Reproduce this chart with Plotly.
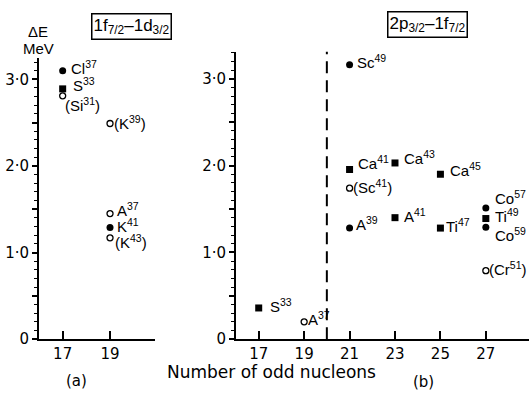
import plotly.graph_objects as go

W, H = 529, 402
LFONT = "Liberation Sans"
DFONT = "DejaVu Sans"

# ---------------- data ----------------
# panel (a): 1f7/2 - 1d3/2
a_x = [17, 17, 17, 19, 19, 19, 19]
a_y = [3.10, 2.89, 2.81, 2.49, 1.45, 1.29, 1.17]
a_kind = ["filled_circle", "filled_square", "open_circle", "open_circle",
          "open_circle", "filled_circle", "open_circle"]
a_labels = ["Cl<sup>37</sup>", "S<sup>33</sup>", "(Si<sup>31</sup>)", "(K<sup>39</sup>)",
            "A<sup>37</sup>", "K<sup>41</sup>", "(K<sup>43</sup>)"]

# panel (b): 2p3/2 - 1f7/2
b_x = [21, 21, 23, 25, 21, 21, 23, 25, 27, 27, 27, 27, 17, 19]
b_y = [3.16, 1.955, 2.03, 1.90, 1.74, 1.28, 1.40, 1.28, 1.51, 1.39, 1.29, 0.79, 0.36, 0.20]
b_kind = ["filled_circle", "filled_square", "filled_square", "filled_square",
          "open_circle", "filled_circle", "filled_square", "filled_square",
          "filled_circle", "filled_square", "filled_circle", "open_circle",
          "filled_square", "open_circle"]
b_labels = ["Sc<sup>49</sup>", "Ca<sup>41</sup>", "Ca<sup>43</sup>", "Ca<sup>45</sup>",
            "(Sc<sup>41</sup>)", "A<sup>39</sup>", "A<sup>41</sup>", "Ti<sup>47</sup>",
            "Co<sup>57</sup>", "Ti<sup>49</sup>", "Co<sup>59</sup>", "(Cr<sup>51</sup>)",
            "S<sup>33</sup>", "A<sup>37</sup>"]

a_xticks = [17, 19]
b_xticks = [17, 19, 21, 23, 25, 27]
y_tickvals = [0, 0.5, 1.0, 1.5, 2.0, 2.5, 3.0]
y_ticktext = ["0", "", "1·0", "", "2·0", "", "3·0"]
shell_boundary = 20

# ---------------- style ----------------
# label offsets in pixels (dx, dy) relative to each marker
a_off = [(7, 3), (9, 4), (1, -9), (3, 1), (6, 4), (6, 2), (4, -4)]
b_off = [(6, 3), (7, 7), (8, 5), (9, 5), (2, 2), (5, 5), (8, 2), (5, 3),
         (8, 11), (8, 3), (8, -7), (2, 2), (10, 2), (3, 3)]

marker_styles = {
    "filled_circle": dict(symbol="circle", size=7, color="black", line=dict(width=0)),
    "filled_square": dict(symbol="square", size=7, color="black", line=dict(width=0)),
    "open_circle": dict(symbol="circle-open", size=6, color="black", line=dict(width=1.3)),
}

fig = go.Figure()

def add_points(xs, ys, kinds, xa, ya):
    for k, st in marker_styles.items():
        px = [x for x, kk in zip(xs, kinds) if kk == k]
        py = [y for y, kk in zip(ys, kinds) if kk == k]
        if px:
            fig.add_trace(go.Scatter(x=px, y=py, mode="markers", marker=st,
                                     xaxis=xa, yaxis=ya, showlegend=False,
                                     hoverinfo="skip", cliponaxis=False))

add_points(a_x, a_y, a_kind, "x", "y")
add_points(b_x, b_y, b_kind, "x2", "y2")

annotations = []
def add_labels(xs, ys, labels, offs, xr, yr):
    for x, y, t, (dx, dy) in zip(xs, ys, labels, offs):
        annotations.append(dict(x=x, y=y, xref=xr, yref=yr, text=t, showarrow=False,
                                xanchor="left", yanchor="middle", xshift=dx, yshift=dy,
                                borderpad=0,
                                font=dict(family=LFONT, size=15, color="black")))

add_labels(a_x, a_y, a_labels, a_off, "x", "y")
add_labels(b_x, b_y, b_labels, b_off, "x2", "y2")

def px_x(p):
    return p / W

def px_y(p):
    return 1 - p / H

txt = dict(family=LFONT, size=15, color="black")
annotations += [
    dict(x=px_x(131), y=px_y(27), xref="paper", yref="paper", showarrow=False,
         text="1f<sub>7/2</sub>–1d<sub>3/2</sub>", font=dict(family=LFONT, size=17, color="black"),
         bordercolor="black", borderwidth=1.5, borderpad=1, xanchor="center", yanchor="middle"),
    dict(x=px_x(427), y=px_y(25), xref="paper", yref="paper", showarrow=False,
         text="2p<sub>3/2</sub>–1f<sub>7/2</sub>", font=dict(family=LFONT, size=17, color="black"),
         bordercolor="black", borderwidth=1.5, borderpad=1, xanchor="center", yanchor="middle"),
    dict(x=px_x(38), y=px_y(32), xref="paper", yref="paper", showarrow=False,
         text="ΔE", font=txt, xanchor="center", yanchor="middle"),
    dict(x=px_x(38), y=px_y(50), xref="paper", yref="paper", showarrow=False,
         text="MeV", font=txt, xanchor="center", yanchor="middle"),
    dict(x=px_x(271), y=px_y(381), xref="paper", yref="paper", showarrow=False,
         text="Number of odd nucleons", font=dict(family=DFONT, size=17, color="black"),
         xanchor="center", yanchor="middle"),
    dict(x=px_x(76), y=px_y(390), xref="paper", yref="paper", showarrow=False,
         text="(a)", font=dict(family=DFONT, size=15, color="black"), xanchor="center", yanchor="middle"),
    dict(x=px_x(423), y=px_y(391), xref="paper", yref="paper", showarrow=False,
         text="(b)", font=dict(family=DFONT, size=15, color="black"), xanchor="center", yanchor="middle"),
]

ybot = px_y(347)

xcommon = dict(showline=True, linecolor="black", linewidth=2, ticks="inside", ticklen=8,
               tickwidth=1.5, tickcolor="black", showgrid=False, zeroline=False,
               tickfont=dict(family=DFONT, size=15, color="black"))
ycommon = dict(showline=True, linecolor="black", linewidth=2, ticks="outside", ticklen=5,
               tickwidth=1.5, tickcolor="black", showgrid=False, zeroline=False,
               tickvals=y_tickvals, ticktext=y_ticktext,
               tickfont=dict(family=DFONT, size=15, color="black"),
               minor=dict(dtick=0.1, ticklen=3, tickwidth=1, tickcolor="black", ticks="outside",
                          showgrid=False))

fig.update_layout(
    width=W, height=H, margin=dict(l=0, r=0, t=0, b=0),
    paper_bgcolor="white", plot_bgcolor="white",
    xaxis=dict(xcommon, domain=[px_x(39), px_x(155)], range=[16, 20.9],
               tickvals=a_xticks, anchor="y"),
    yaxis=dict(ycommon, domain=[ybot, px_y(59)], range=[0, 3.25], anchor="x"),
    xaxis2=dict(xcommon, domain=[px_x(236), 1.0], range=[16, 28.9],
                tickvals=b_xticks, anchor="y2"),
    yaxis2=dict(ycommon, domain=[ybot, px_y(53)], range=[0, 3.31], anchor="x2"),
    annotations=annotations,
    shapes=[dict(type="line", xref="x2", yref="y2", x0=shell_boundary, x1=shell_boundary,
                 y0=0, y1=3.33, line=dict(color="black", width=2, dash="12px,7px"))],
)

fig.write_html("out.html", config={"displayModeBar": False},
               post_script="document.body.style.margin='0';")
